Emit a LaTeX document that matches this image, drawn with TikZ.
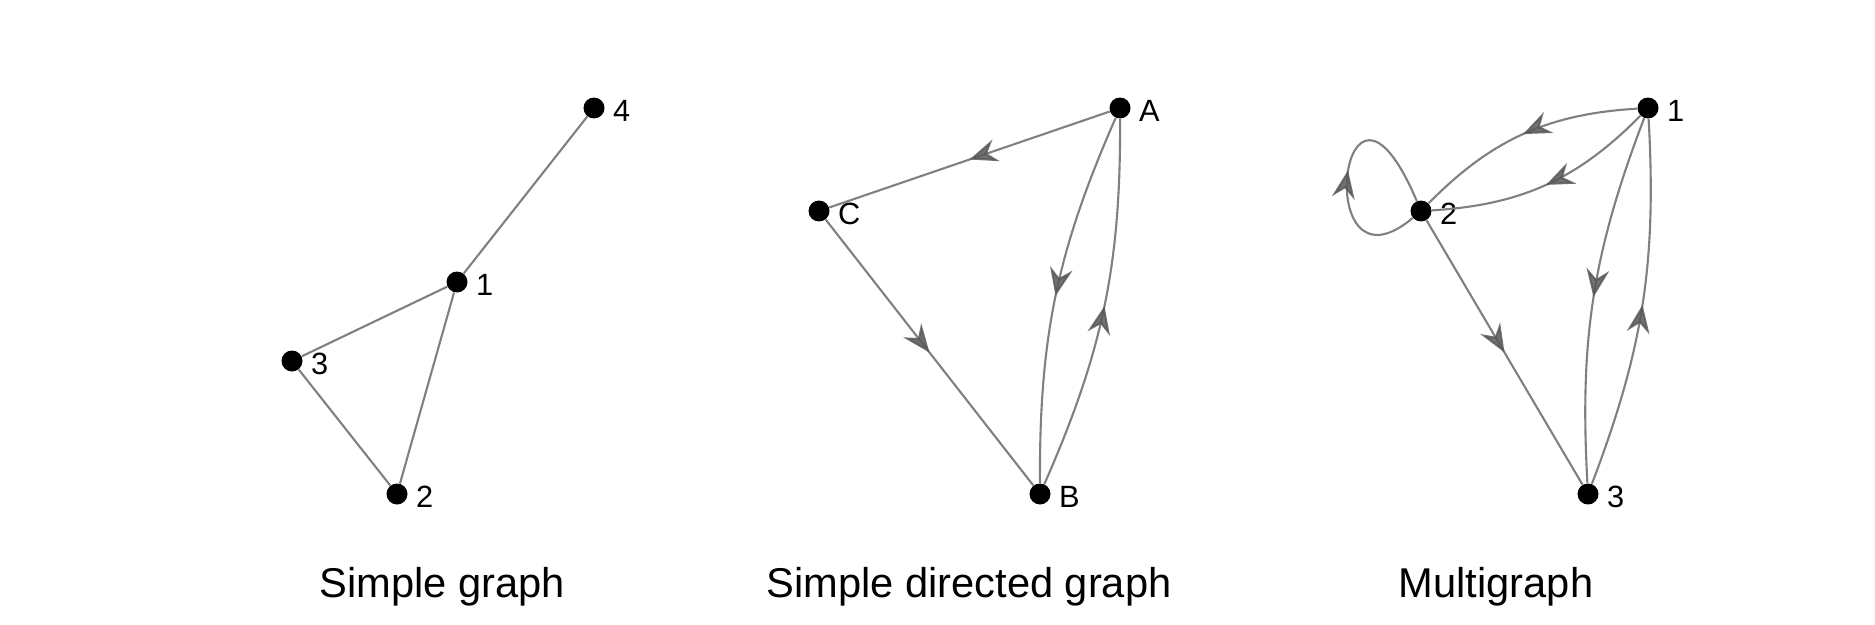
\documentclass[tikz,border=0pt]{standalone}
\usepackage{fontspec}
\setmainfont{Liberation Sans}
\usetikzlibrary{arrows.meta,decorations.markings,positioning}

\begin{document}
\begin{tikzpicture}[x=0.02cm,y=-0.02cm,
    vertex/.style={circle,fill=black,inner sep=0pt,minimum size=0.42cm},
    tag/.style={inner sep=0pt,font=\fontsize{17.5}{20}\selectfont,yshift=-0.06cm},
    every edge/.style={draw=black!50,line width=1.2pt},
    midarrow/.style={postaction={decorate,decoration={markings,
      mark=at position 0.5 with {\pgfsetfillopacity{0.85}\pgfsetstrokeopacity{0.85}%
        \arrow{Stealth[length=16pt,width=13pt,inset=5.5pt,color=black!65]}}}}},
    caption/.style={font=\fontsize{23.7}{28}\selectfont,anchor=base}]
  \useasboundingbox (0,0) rectangle (1875,625);

  % simple graph
  \node[vertex] (s4) at (594,108) {};
  \node[vertex] (s1) at (457,282) {};
  \node[vertex] (s3) at (292,361) {};
  \node[vertex] (s2) at (397,494) {};
  \node[tag,right=0.16cm of s4] (s4l) {4};
  \node[tag,right=0.16cm of s1] (s1l) {1};
  \node[tag,right=0.16cm of s3] (s3l) {3};
  \node[tag,right=0.16cm of s2] (s2l) {2};
  \path (s4) edge (s1)
        (s1) edge (s3)
        (s1) edge (s2)
        (s3) edge (s2);
  \node[caption] (t1) at (442,597) {Simple graph};

  % simple directed graph
  \node[vertex] (dA) at (1120,108) {};
  \node[vertex] (dC) at (819,211) {};
  \node[vertex] (dB) at (1040,494) {};
  \node[tag,right=0.16cm of dA] (dAl) {A};
  \node[tag,right=0.16cm of dC] (dCl) {C};
  \node[tag,right=0.16cm of dB] (dBl) {B};
  \path (dA) edge[midarrow] (dC)
        (dC) edge[midarrow] (dB)
        (dA) edge[midarrow,bend right=12] (dB)
        (dB) edge[midarrow,bend right=12] (dA);
  \node[caption] (t2) at (969,597) {Simple directed graph};

  % multigraph
  \node[vertex] (m1) at (1648,108) {};
  \node[vertex] (m2) at (1421,211) {};
  \node[vertex] (m3) at (1588,494) {};
  \node[tag,right=0.16cm of m1] (m1l) {1};
  \node[tag,right=0.16cm of m2] (m2l) {2};
  \node[tag,right=0.16cm of m3] (m3l) {3};
  \path (m1) edge[midarrow,bend right=21] (m2)
        (m1) edge[midarrow,bend left=21] (m2)
        (m2) edge[midarrow,out=220,in=113,out min distance=2.7cm,in min distance=3.9cm] (m2)
        (m2) edge[midarrow] (m3)
        (m1) edge[midarrow,bend right=12] (m3)
        (m3) edge[midarrow,bend right=12] (m1);
  \node[caption] (t3) at (1496,597) {Multigraph};
\end{tikzpicture}
\end{document}
